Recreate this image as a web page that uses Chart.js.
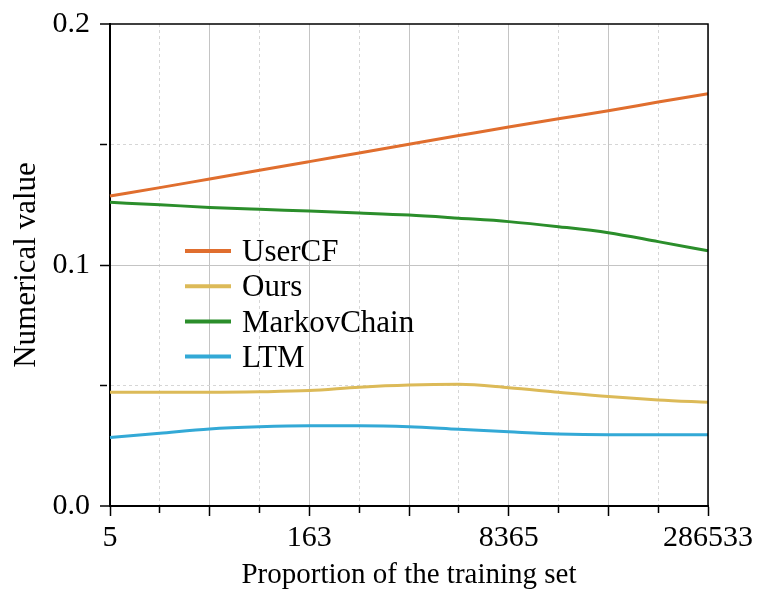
<!DOCTYPE html>
<html>
<head>
<meta charset="utf-8">
<script src="https://cdn.jsdelivr.net/npm/chart.js@4.4.1/dist/chart.umd.min.js"></script>
<style>
	html, body { margin: 0; padding: 0; background: #fff; }
	#wrap { width: 761px; height: 593px; }
</style>
</head>
<body>
<div id="wrap"><canvas id="chart" width="761" height="593"></canvas></div>
<script>
'use strict';

// x positions: majors carry the labels, the rest are minor ticks
var categories = ['5', '', '', '', '163', '', '', '', '8365', '', '', '', '286533'];

var seriesNames = ['UserCF', 'Ours', 'MarkovChain', 'LTM'];
var seriesColors = ['#E06E2E', '#DCBA58', '#2B8E2B', '#33A9D6'];

var userCF = [0.1286, 0.1321, 0.1357, 0.1393, 0.1429, 0.1465, 0.1501, 0.1537, 0.1573, 0.1607, 0.1640, 0.1676, 0.1711];
var ours = [0.0472, 0.0472, 0.0472, 0.0474, 0.0479, 0.0493, 0.0502, 0.0505, 0.0491, 0.0472, 0.0454, 0.0440, 0.0430];
var markovChain = [0.1260, 0.1250, 0.1239, 0.1231, 0.1224, 0.1216, 0.1207, 0.1194, 0.1180, 0.1159, 0.1134, 0.1097, 0.1059];
var ltm = [0.0284, 0.0302, 0.0320, 0.0329, 0.0333, 0.0333, 0.0329, 0.0318, 0.0308, 0.0299, 0.0296, 0.0296, 0.0296];

var yTicks = [0.0, 0.1, 0.2];

var FONT = "'Liberation Serif', 'Times New Roman', serif";

function isMinorX(ctx) {
	return ctx.index % 2 === 1;
}

function isMinorY(ctx) {
	if (!ctx.tick) return false;
	return Math.abs(ctx.tick.value * 10 - Math.round(ctx.tick.value * 10)) > 1e-6;
}

// black box on top/right of the plot + legend inside the plot area
var framePlugin = {
	id: 'frame',
	afterDraw: function(chart) {
		var c = chart.ctx, a = chart.chartArea;
		c.save();
		c.strokeStyle = '#000';
		c.lineWidth = 1.5;
		c.beginPath();
		c.moveTo(a.left, a.top);
		c.lineTo(a.right, a.top);
		c.lineTo(a.right, a.bottom);
		c.stroke();

		var x0 = a.left + 75, y0 = a.top + 227, step = 35.2;
		c.font = '31px ' + FONT;
		c.textBaseline = 'middle';
		c.fillStyle = '#000';
		chart.data.datasets.forEach(function(ds, i) {
			var y = y0 + i * step;
			c.strokeStyle = ds.borderColor;
			c.lineWidth = 4;
			c.beginPath();
			c.moveTo(x0, y);
			c.lineTo(x0 + 46, y);
			c.stroke();
			c.fillText(ds.label, x0 + 57, y + 2);
		});
		c.restore();
	}
};

var datasets = [userCF, ours, markovChain, ltm].map(function(vals, i) {
	return {
		label: seriesNames[i],
		data: vals,
		borderColor: seriesColors[i],
		backgroundColor: seriesColors[i],
		borderWidth: 3,
		pointRadius: 0,
		tension: 0.4,
		cubicInterpolationMode: 'monotone',
		fill: false
	};
});

new Chart(document.getElementById('chart'), {
	type: 'line',
	data: { labels: categories, datasets: datasets },
	options: {
		responsive: false,
		animation: false,
		layout: { padding: { top: 24, right: 53, left: 0, bottom: 0 } },
		plugins: {
			legend: { display: false },
			tooltip: { enabled: false }
		},
		scales: {
			x: {
				type: 'category',
				offset: false,
				grid: {
					color: function(ctx) { return isMinorX(ctx) ? '#d6d6d6' : '#c4c4c4'; },
					lineWidth: 1,
					tickLength: 10,
					tickColor: '#000',
					tickWidth: 1.5,
					tickBorderDash: function(ctx) { return isMinorX(ctx) ? [6, 20] : []; }
				},
				border: {
					color: '#000',
					width: 2,
					dash: function(ctx) { return (ctx.type === 'tick' && isMinorX(ctx)) ? [3, 3] : []; }
				},
				ticks: {
					autoSkip: false,
					maxRotation: 0,
					padding: 4,
					color: '#000',
					font: { family: FONT, size: 30 }
				},
				title: {
					display: true,
					text: 'Proportion of the training set',
					color: '#000',
					font: { family: FONT, size: 29 },
					padding: { top: -4, bottom: 0 }
				},
				afterFit: function(scale) { scale.height = 87; }
			},
			y: {
				min: 0,
				max: 0.2,
				grid: {
					color: function(ctx) { return isMinorY(ctx) ? '#d6d6d6' : '#c4c4c4'; },
					lineWidth: function(ctx) { return (ctx.tick && (ctx.tick.value === 0 || ctx.tick.value > 0.199)) ? 0 : 1; },
					tickLength: 10,
					tickColor: '#000',
					tickWidth: 1.5,
					tickBorderDash: function(ctx) { return isMinorY(ctx) ? [7, 20] : []; }
				},
				border: {
					color: '#000',
					width: 2,
					dash: function(ctx) { return (ctx.type === 'tick' && isMinorY(ctx)) ? [3, 3] : []; }
				},
				ticks: {
					stepSize: 0.05,
					padding: 10,
					color: '#000',
					font: { family: FONT, size: 30 },
					callback: function(value) {
						for (var i = 0; i < yTicks.length; i++) {
							if (Math.abs(value - yTicks[i]) < 1e-6) return yTicks[i].toFixed(1);
						}
						return '';
					}
				},
				title: {
					display: true,
					text: 'Numerical value',
					color: '#000',
					font: { family: FONT, size: 31 },
					padding: { top: 8, bottom: 0 }
				},
				afterFit: function(scale) {
					scale.width = 110;
					// let layout padding alone decide the top edge
					scale.paddingTop = 0;
					scale.paddingBottom = 0;
				}
			}
		}
	},
	plugins: [framePlugin]
});
</script>
</body>
</html>
